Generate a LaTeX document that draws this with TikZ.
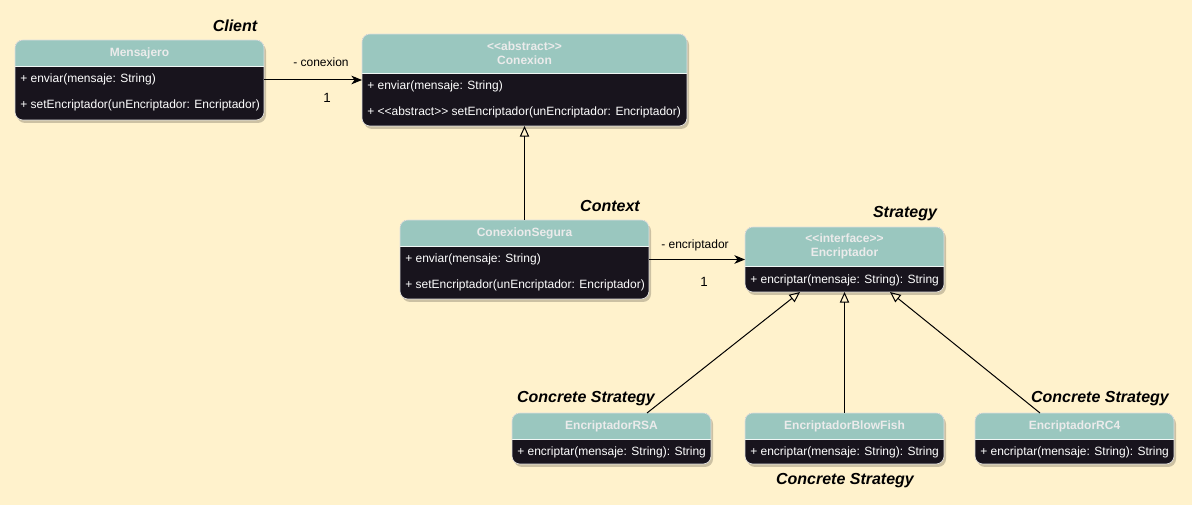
\documentclass[tikz,border=0pt]{standalone}
\usepackage{fontspec}
\setmainfont{Liberation Sans}
\usetikzlibrary{arrows.meta,calc,fit}
\definecolor{bg}{HTML}{FFF2CC}
\definecolor{hdr}{HTML}{9AC7BF}
\definecolor{bodyc}{HTML}{18141D}
\definecolor{hdrtxt}{HTML}{EBEBEB}
\tikzset{
  frame/.style={inner sep=0pt, outer sep=0pt},
  rowtxt/.style={anchor=west, text=white, font=\fontsize{9}{11}\selectfont, inner sep=0pt},
  hdrtxt/.style={text=hdrtxt, font=\bfseries\fontsize{9}{10.5}\selectfont, align=center, inner sep=0pt},
  role/.style={font=\bfseries\itshape\fontsize{12}{14}\selectfont, inner sep=0pt},
  elabel/.style={font=\fontsize{9}{11}\selectfont, inner sep=0pt},
  mult/.style={font=\fontsize{10}{12}\selectfont, inner sep=0pt},
  assoc/.style={line width=0.75pt, -{Stealth[length=8pt,width=6.5pt,inset=2.4pt]}},
  gen/.style={line width=0.75pt, -{Triangle[open,length=8pt,width=7pt]}},
}
\newcommand\umlbox[6]{%
  \fill[black,opacity=0.2,rounded corners=6pt] ({#2+2},{#3+3}) rectangle ({#4+2},{#5+3});
  \begin{scope}
    \clip[rounded corners=6pt] (#2,#3) rectangle (#4,#5);
    \fill[bodyc] (#2,#3) rectangle (#4,#5);
    \fill[hdr] (#2,#3) rectangle (#4,#6);
  \end{scope}
  \draw[white!85!hdr, line width=0.6pt] (#2,#6) -- (#4,#6);
  \draw[white!75!gray, line width=0.5pt, rounded corners=6pt] (#2,#3) rectangle (#4,#5);
  \node[fit={(#2,#3)(#4,#5)}, frame] (#1) {};
}
\newcommand\stereo[1]{{<}{<}#1{>}{>}}
\begin{document}
\begin{tikzpicture}[x=0.75pt,y=-0.75pt]
\fill[bg] (0,0) rectangle (1192,505);
\useasboundingbox (0,0) rectangle (1192,505);

% Mensajero
\umlbox{mens}{15}{40}{264}{120}{66}
\node[hdrtxt] (mens-t) at (139.5,53) {Mensajero};
\node[rowtxt] (mens-r1) at (20,79) {+ enviar(mensaje: String)};
\node[rowtxt] (mens-r2) at (20,105) {+ setEncriptador(unEncriptador: Encriptador)};

% Conexion
\umlbox{conx}{362}{34}{687}{126}{73}
\node[hdrtxt] (conx-t) at (524.5,53.5) {\stereo{abstract}\\Conexion};
\node[rowtxt] (conx-r1) at (367,86) {+ enviar(mensaje: String)};
\node[rowtxt] (conx-r2) at (367,112) {+ \stereo{abstract} setEncriptador(unEncriptador: Encriptador)};

% ConexionSegura
\umlbox{seg}{400}{220}{649}{299}{246}
\node[hdrtxt] (seg-t) at (524.5,233) {ConexionSegura};
\node[rowtxt] (seg-r1) at (405,259) {+ enviar(mensaje: String)};
\node[rowtxt] (seg-r2) at (405,285) {+ setEncriptador(unEncriptador: Encriptador)};

% Encriptador
\umlbox{enc}{745}{227}{944}{292}{266}
\node[hdrtxt] (enc-t) at (844.5,246.5) {\stereo{interface}\\Encriptador};
\node[rowtxt] (enc-r1) at (750,280) {+ encriptar(mensaje: String): String};

% EncriptadorRSA
\umlbox{rsa}{512}{413}{711}{464}{439}
\node[hdrtxt] (rsa-t) at (611.5,426) {EncriptadorRSA};
\node[rowtxt] (rsa-r1) at (517,452) {+ encriptar(mensaje: String): String};

% EncriptadorBlowFish
\umlbox{blow}{745}{413}{944}{464}{439}
\node[hdrtxt] (blow-t) at (844.5,426) {EncriptadorBlowFish};
\node[rowtxt] (blow-r1) at (750,452) {+ encriptar(mensaje: String): String};

% EncriptadorRC4
\umlbox{rc4}{975}{413}{1174}{464}{439}
\node[hdrtxt] (rc4-t) at (1074.5,426) {EncriptadorRC4};
\node[rowtxt] (rc4-r1) at (980,452) {+ encriptar(mensaje: String): String};

% role labels
\node[role] (l-client) at (235,26) {Client};
\node[role] (l-context) at (610,206) {Context};
\node[role] (l-strategy) at (905,214) {Strategy};
\node[role] (l-cs1) at (586,399) {Concrete Strategy};
\node[role] (l-cs2) at (845,481) {Concrete Strategy};
\node[role] (l-cs3) at (1100,399) {Concrete Strategy};

% connectors
\draw[assoc] (mens.east) -- (conx.west);
\node[elabel] (a1-l) at (321,62) {- conexion};
\node[mult] (a1-m) at (327,98) {1};

\draw[gen] (seg.north) -- (conx.south);

\draw[assoc] (seg.east) -- (enc.west);
\node[elabel] (a2-l) at (695,245) {- encriptador};
\node[mult] (a2-m) at (704,282) {1};

\draw[gen] ($(rsa.north)+(35.5,0)$) -- ($(enc.south)+(-44.5,0)$);
\draw[gen] (blow.north) -- (enc.south);
\draw[gen] ($(rc4.north)+(-34.5,0)$) -- ($(enc.south)+(45.5,0)$);
\end{tikzpicture}
\end{document}
